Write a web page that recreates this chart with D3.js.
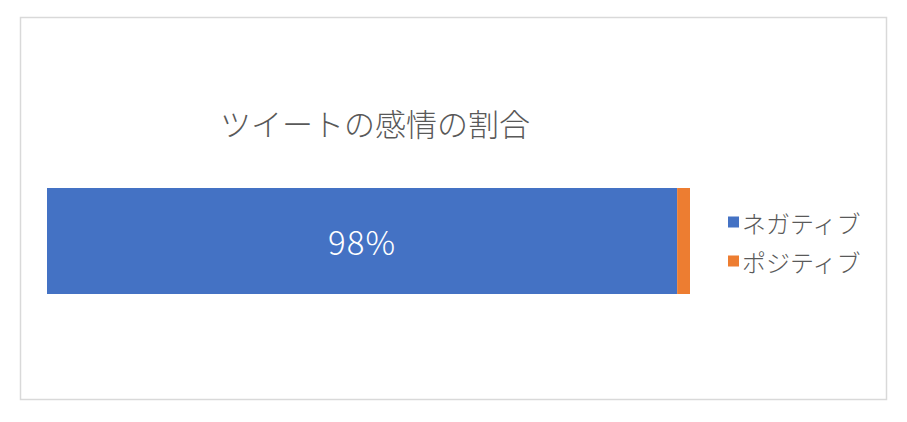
<!DOCTYPE html>
<html lang="ja">
  <head>
    <meta charset="utf-8">
    <script src="https://d3js.org/d3.v7.min.js"></script>
    <style>
      body { margin: 0; background: #fff; }
      text { font-family: "Noto Sans CJK JP", "Noto Sans", sans-serif; }
    </style>
  </head>
  <body>
    <svg width="907" height="422"></svg>
    <script>
      // data
      var categories = ["ネガティブ", "ポジティブ"];
      var shares = [98, 2];
      var colors = ["#4472C4", "#ED7D31"];
      var title = "ツイートの感情の割合";

      var svg = d3.select("svg");

      // chart frame
      svg.append("rect")
        .attr("x", 20.5).attr("y", 17.5)
        .attr("width", 866).attr("height", 382)
        .attr("fill", "#fff")
        .attr("stroke", "#D9D9D9")
        .attr("stroke-width", 1.5);

      svg.append("text")
        .attr("x", 375).attr("y", 122)
        .attr("text-anchor", "middle")
        .attr("dominant-baseline", "central")
        .attr("font-size", 31)
        .attr("font-weight", 300)
        .attr("fill", "#595959")
        .text(title);

      // scales
      var x = d3.scaleLinear().domain([0, 100]).range([47, 690]);
      var y = d3.scaleBand().domain(["all"]).range([188, 294]);

      // stack the shares
      var stacked = [];
      var acc = 0;
      shares.forEach(function(v, i) {
        stacked.push({ name: categories[i], x0: acc, x1: acc + v, value: v, color: colors[i] });
        acc += v;
      });

      svg.append("g")
        .selectAll("rect")
        .data(stacked)
        .enter().append("rect")
          .attr("x", function(d) { return x(d.x0); })
          .attr("width", function(d) { return x(d.x1) - x(d.x0); })
          .attr("y", y("all"))
          .attr("height", y.bandwidth())
          .attr("fill", function(d) { return d.color; });

      // only the big segment carries a label
      svg.append("text")
        .attr("x", (x(stacked[0].x0) + x(stacked[0].x1)) / 2)
        .attr("y", y("all") + y.bandwidth() / 2)
        .attr("text-anchor", "middle")
        .attr("dominant-baseline", "central")
        .attr("font-size", 33)
        .attr("font-weight", 300)
        .attr("letter-spacing", 1)
        .attr("fill", "#fff")
        .text(stacked[0].value + "%");

      // legend
      var legend = svg.append("g")
        .selectAll("g")
        .data(stacked)
        .enter().append("g")
          .attr("transform", function(d, i) { return "translate(728," + (222 + i * 39) + ")"; });

      legend.append("rect")
        .attr("x", 0).attr("y", -5.5)
        .attr("width", 11).attr("height", 11)
        .attr("fill", function(d) { return d.color; });

      legend.append("text")
        .attr("x", 14).attr("y", 0)
        .attr("dominant-baseline", "central")
        .attr("font-size", 24)
        .attr("font-weight", 300)
        .attr("fill", "#595959")
        .text(function(d) { return d.name; });
    </script>
  </body>
</html>
